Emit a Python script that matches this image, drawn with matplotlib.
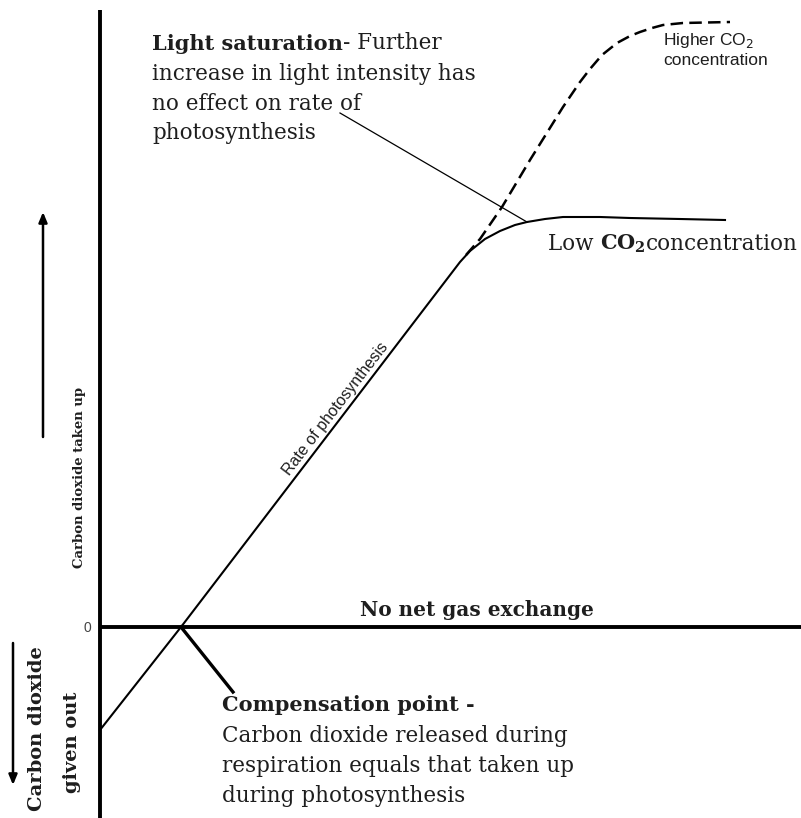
import matplotlib
matplotlib.use("Agg")
import matplotlib.pyplot as plt

# ---- data (light intensity vs CO2 exchange, arbitrary units) ----
low_x = [0, 81, 360, 370, 385, 400, 415, 427, 445, 463, 500, 530, 580, 625]
low_y = [-103, 0, 365, 376, 388, 396, 402, 405, 408, 410, 410, 409, 408, 407]

high_x = [366, 380, 402, 430, 463, 480, 490, 502, 517, 530, 540, 552, 563, 583, 630]
high_y = [372, 388, 420, 467, 520, 545, 558, 572, 584, 591, 595, 599, 602, 604, 605]

comp_point = (81, 0)
sat_point = (427, 405)

SERIF = "DejaVu Serif"
SANS = "Liberation Sans"
TXT = "#1e1e1e"

fig = plt.figure(figsize=(8.01, 8.18), dpi=100)
ax = fig.add_axes([0, 0, 1, 1])
ax.set_xlim(-100, 701)
ax.set_ylim(-191, 627)
ax.axis("off")

# axes lines
ax.plot([0, 0], [-191, 617], color="black", lw=2.8, solid_capstyle="butt")
ax.plot([0, 701], [0, 0], color="black", lw=2.8, solid_capstyle="butt")

# curves
ax.plot(low_x, low_y, color="black", lw=1.5, solid_joinstyle="round")
ax.plot(high_x, high_y, color="black", lw=1.8, linestyle=(0, (5, 2.5)))

# pointer lines
ax.plot([240, sat_point[0]], [514, sat_point[1]], color="black", lw=0.9)
ax.plot([comp_point[0], 133], [comp_point[1], -65], color="black", lw=2.4)

# zero label
ax.text(-13, -1, "0", fontsize=10, family=SANS, color="#444444", ha="center", va="center")

fs = 15.5
fsb = 15
# Light saturation block
t1 = ax.text(52, 627 - 50, "Light saturation", fontsize=fsb, family=SERIF,
             weight="bold", color=TXT, va="baseline", ha="left")
ax.annotate("- Further", xy=(1, 0), xycoords=t1, fontsize=fs, family=SERIF,
            color=TXT, va="bottom", ha="left")
for i, line in enumerate(["increase in light intensity has",
                          "no effect on rate of",
                          "photosynthesis"]):
    ax.text(52, 627 - 80 - 29.5 * i, line, fontsize=fs, family=SERIF,
            color=TXT, va="baseline", ha="left")

# Higher CO2
ax.text(563, 627 - 45, "Higher CO$_2$", fontsize=12.5, family=SANS,
        math_fontfamily="dejavusans", color=TXT, va="baseline", ha="left")
ax.text(563, 627 - 65, "concentration", fontsize=12.5, family=SANS,
        color=TXT, va="baseline", ha="left")

# Low CO2
t2 = ax.text(448, 627 - 250, "Low ", fontsize=fs, family=SERIF, color=TXT,
             va="baseline", ha="left")
t3 = ax.annotate(r"$\mathbf{CO_2}$", xy=(1, 0), xycoords=t2, fontsize=fsb,
                 math_fontfamily="dejavuserif", color=TXT, va="bottom", ha="left")
ax.annotate("concentration", xy=(1, 0), xycoords=t3, fontsize=fs, family=SERIF,
            color=TXT, va="bottom", ha="left")

# Rate of photosynthesis (along line)
ry = 214
ax.text(81 + ry / 1.304 - 4, ry, "Rate of photosynthesis", fontsize=11.5, family=SANS,
        color=TXT, rotation=52.5, rotation_mode="anchor", ha="center", va="bottom")

# No net gas exchange
ax.text(260, 627 - 616, "No net gas exchange", fontsize=14.4, family=SERIF,
        weight="bold", color=TXT, va="baseline", ha="left")

# Compensation point block
ax.text(122, 627 - 711, "Compensation point -", fontsize=fsb, family=SERIF,
        weight="bold", color=TXT, va="baseline", ha="left")
for i, line in enumerate(["Carbon dioxide released during",
                          "respiration equals that taken up",
                          "during photosynthesis"]):
    ax.text(122, 627 - 742 - 30 * i, line, fontsize=fs, family=SERIF,
            color=TXT, va="baseline", ha="left")

# left labels
ax.text(-20, 627 - 477, "Carbon dioxide taken up", fontsize=9.5, family=SERIF,
        weight="bold", color=TXT, rotation=90, ha="center", va="center")
ax.text(-63, 627 - 729, "Carbon dioxide", fontsize=14, family=SERIF,
        weight="bold", color=TXT, rotation=90, ha="center", va="center")
ax.text(-28, 627 - 742, "given out", fontsize=14, family=SERIF,
        weight="bold", color=TXT, rotation=90, ha="center", va="center")

# arrows
ax.annotate("", xy=(-57, 627 - 212), xytext=(-57, 627 - 437),
            arrowprops=dict(arrowstyle="-|>,head_length=0.6,head_width=0.25",
                            color="black", lw=1.8, shrinkA=0, shrinkB=0))
ax.annotate("", xy=(-87, 627 - 785), xytext=(-87, 627 - 643),
            arrowprops=dict(arrowstyle="-|>,head_length=0.6,head_width=0.25",
                            color="black", lw=1.8, shrinkA=0, shrinkB=0))

fig.savefig("out.png", dpi=100, facecolor="white")
